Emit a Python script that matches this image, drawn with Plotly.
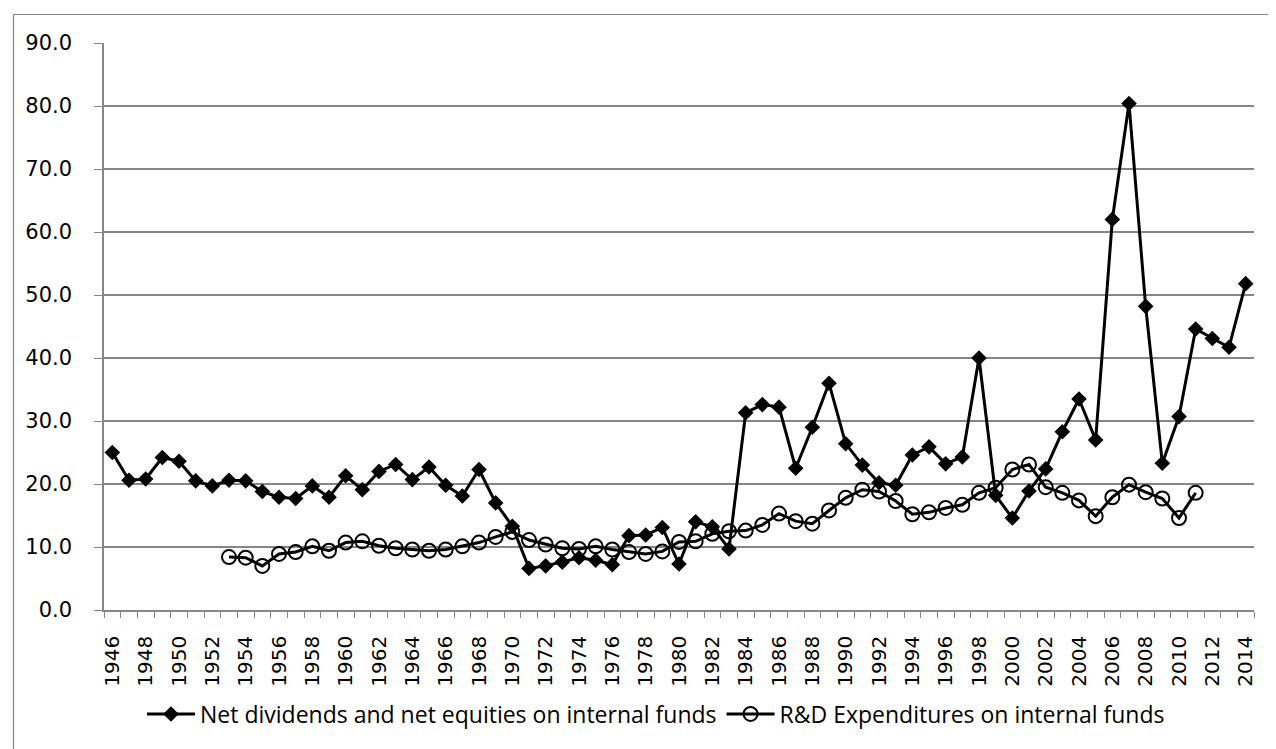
import plotly.graph_objects as go

years_div = list(range(1946, 2015))
net_div = [25.0, 20.6, 20.8, 24.2, 23.6, 20.5, 19.7, 20.6, 20.5, 18.8,
           17.9, 17.7, 19.7, 17.9, 21.3, 19.1, 22.0, 23.1, 20.7, 22.7,
           19.8, 18.1, 22.3, 17.0, 13.3, 6.6, 7.0, 7.6, 8.3, 7.9,
           7.2, 11.8, 11.9, 13.1, 7.3, 14.0, 13.2, 9.7, 31.3, 32.6,
           32.2, 22.5, 29.0, 36.0, 26.4, 23.0, 20.2, 19.8, 24.6, 25.9,
           23.2, 24.3, 40.0, 18.2, 14.6, 18.9, 22.4, 28.3, 33.5, 27.0,
           62.0, 80.4, 48.2, 23.3, 30.7, 44.6, 43.1, 41.7, 51.8]

years_rd = list(range(1953, 2012))
rd_exp = [8.4, 8.3, 7.0, 8.9, 9.2, 10.1, 9.4, 10.7, 10.9, 10.2,
          9.8, 9.6, 9.4, 9.6, 10.1, 10.7, 11.6, 12.4, 11.1, 10.4,
          9.8, 9.7, 10.1, 9.6, 9.2, 8.9, 9.3, 10.8, 10.9, 12.1,
          12.5, 12.6, 13.5, 15.3, 14.1, 13.7, 15.8, 17.8, 19.1, 18.8,
          17.3, 15.2, 15.5, 16.2, 16.7, 18.6, 19.4, 22.3, 23.1, 19.5,
          18.6, 17.4, 14.9, 17.9, 19.9, 18.7, 17.7, 14.6, 18.6]

tick_years = list(range(1946, 2015, 2))
tick_labels = [str(y) for y in tick_years]
y_ticks = [0, 10, 20, 30, 40, 50, 60, 70, 80, 90]

names = ["Net dividends and net equities on internal funds",
         "R&D Expenditures on internal funds"]

GRID = "#868686"
W, H = 1276, 749
L, R, T, B = 96, W - 1246, 35, H - 602
PW, PH = W - L - R, H - T - B

fig = go.Figure()
fig.add_trace(go.Scatter(
    x=years_div, y=net_div, mode="lines+markers", name=names[0],
    line=dict(color="black", width=3),
    marker=dict(symbol="diamond", size=12, color="black"),
))
fig.add_trace(go.Scatter(
    x=years_rd, y=rd_exp, mode="lines+markers", name=names[1],
    line=dict(color="black", width=3),
    marker=dict(symbol="circle-open", size=14, color="black", line=dict(width=2)),
))

fig.update_layout(
    width=W, height=H,
    margin=dict(l=L, r=R, t=T, b=B),
    paper_bgcolor="white", plot_bgcolor="white",
    font=dict(family="DejaVu Sans", color="black", size=20),
    showlegend=True,
    legend=dict(orientation="h", x=0.48, xanchor="center",
                y=(602 - 706) / PH, yanchor="middle",
                font=dict(family="Open Sans", size=23, color="black"),
                itemwidth=48, tracegroupgap=0),
    xaxis=dict(
        range=[1945.5, 2014.5], tickmode="array", tickvals=tick_years,
        ticktext=tick_labels, tickangle=-90, ticks="",
        showgrid=False, showline=True, linecolor=GRID, linewidth=1.5,
        zeroline=False, tickfont=dict(family="DejaVu Sans", size=20),
        minor=dict(tick0=1945.5, dtick=1, ticks="outside", ticklen=6,
                   tickcolor=GRID, tickwidth=1, showgrid=False),
        ticklabelstandoff=16,
    ),
    yaxis=dict(
        range=[0, 90], tickmode="array", tickvals=y_ticks,
        ticktext=[f"{v:.1f}" for v in y_ticks],
        showgrid=True, gridcolor=GRID, gridwidth=1.5,
        showline=True, linecolor=GRID, linewidth=1.5, zeroline=False,
        ticks="outside", ticklen=8, tickcolor=GRID,
        tickfont=dict(family="DejaVu Sans", size=21),
        ticklabelstandoff=18,
    ),
)

fig.add_shape(type="rect", xref="paper", yref="paper",
              x0=(5.5 - L) / PW, x1=(1275 - L) / PW,
              y0=(602 - 748) / PH, y1=(602 - 6.5) / PH,
              line=dict(color=GRID, width=1.2), fillcolor="rgba(0,0,0,0)",
              layer="below")

fig.write_html("out.html")
